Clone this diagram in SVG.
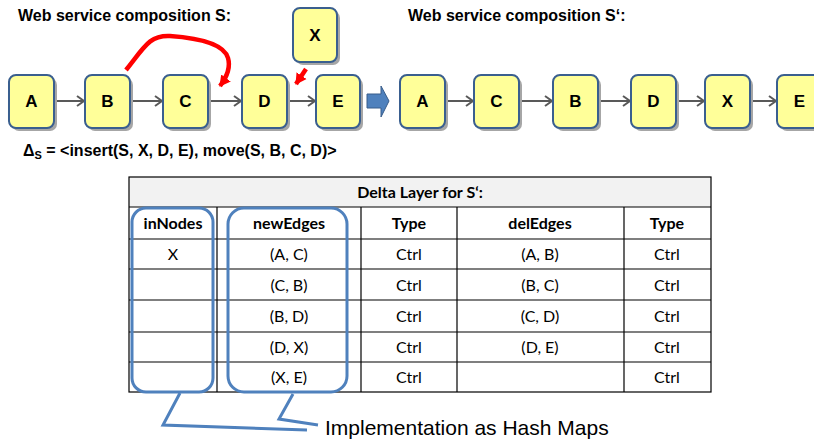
<svg xmlns="http://www.w3.org/2000/svg" width="814" height="441" viewBox="0 0 814 441">
<defs>
<style>
.node rect.sh{fill:#a6a6a6}
.node rect.bx{fill:#ffff99;stroke:#3a5f8f;stroke-width:2}
.node text{font-family:"Liberation Sans",Arial,sans-serif;font-weight:bold;font-size:17px;text-anchor:middle;fill:#000}
.title{font-family:"Liberation Sans",Arial,sans-serif;font-weight:bold;font-size:16px;fill:#000}
.gl{stroke:#595959;stroke-width:2;fill:none}
.red{stroke:#ff0000;stroke-width:4.5;fill:none}
.tb{font-family:Lato,"Open Sans",sans-serif;font-size:16px;text-anchor:middle;fill:#000}
.th{font-weight:bold}
.grid{stroke:#000;stroke-width:1.2;fill:none}
.hm{stroke:#4f81bd;stroke-width:3;fill:none}
</style>
<marker id="chev" markerUnits="userSpaceOnUse" markerWidth="12" markerHeight="12" refX="9" refY="6" orient="auto">
<path d="M2,1 L9,6 L2,11" fill="none" stroke="#595959" stroke-width="2"/>
</marker>
<marker id="redhead" markerUnits="userSpaceOnUse" markerWidth="14" markerHeight="14" refX="10" refY="7" orient="auto">
<path d="M0,1 L11,7 L0,13 Z" fill="#ff0000"/>
</marker>
</defs>
<rect width="814" height="441" fill="#ffffff"/>

<text class="title" x="18" y="21">Web service composition S:</text>
<text class="title" x="408" y="21">Web service composition S‘:</text>

<g id="connectors">
<line class="gl" x1="54" y1="101" x2="84" y2="101" marker-end="url(#chev)"/>
<line class="gl" x1="130" y1="101" x2="162" y2="101" marker-end="url(#chev)"/>
<line class="gl" x1="208" y1="101" x2="241" y2="101" marker-end="url(#chev)"/>
<line class="gl" x1="287" y1="101" x2="315" y2="101" marker-end="url(#chev)"/>
<line class="gl" x1="445" y1="101" x2="473" y2="101" marker-end="url(#chev)"/>
<line class="gl" x1="519" y1="101" x2="552" y2="101" marker-end="url(#chev)"/>
<line class="gl" x1="598" y1="101" x2="630" y2="101" marker-end="url(#chev)"/>
<line class="gl" x1="676" y1="101" x2="704" y2="101" marker-end="url(#chev)"/>
<line class="gl" x1="748" y1="101" x2="776" y2="101" marker-end="url(#chev)"/>
<path class="red" d="M126,70 C145,46 150,35 170,36 C198,38 224,44 228,58 C231,68 226,78 220,86" marker-end="url(#redhead)"/>
<line class="red" stroke-width="3" x1="306" y1="69" x2="296" y2="84" marker-end="url(#redhead)"/>
<path d="M367,94 L381,94 L381,86 L389,101 L381,117 L381,108 L367,108 Z" fill="#4f81bd" stroke="#385d8a" stroke-width="1"/>
</g>

<g id="node-A" class="node"><rect class="sh" x="12" y="78" width="45" height="53" rx="7"/><rect class="bx" x="9" y="75" width="45" height="53" rx="7"/><text x="31.5" y="107">A</text></g>
<g id="node-B" class="node"><rect class="sh" x="88" y="78" width="45" height="53" rx="7"/><rect class="bx" x="85" y="75" width="45" height="53" rx="7"/><text x="107.5" y="107">B</text></g>
<g id="node-C" class="node"><rect class="sh" x="166" y="78" width="45" height="53" rx="7"/><rect class="bx" x="163" y="75" width="45" height="53" rx="7"/><text x="185.5" y="107">C</text></g>
<g id="node-D" class="node"><rect class="sh" x="245" y="78" width="45" height="53" rx="7"/><rect class="bx" x="242" y="75" width="45" height="53" rx="7"/><text x="264.5" y="107">D</text></g>
<g id="node-E" class="node"><rect class="sh" x="319" y="78" width="44" height="53" rx="7"/><rect class="bx" x="316" y="75" width="44" height="53" rx="7"/><text x="338" y="107">E</text></g>
<g id="node-X" class="node"><rect class="sh" x="296" y="11" width="44" height="54" rx="7"/><rect class="bx" x="293" y="8" width="44" height="54" rx="7"/><text x="315" y="41">X</text></g>

<g id="node-A2" class="node"><rect class="sh" x="403" y="78" width="45" height="53" rx="7"/><rect class="bx" x="400" y="75" width="45" height="53" rx="7"/><text x="422.5" y="107">A</text></g>
<g id="node-C2" class="node"><rect class="sh" x="477" y="78" width="45" height="53" rx="7"/><rect class="bx" x="474" y="75" width="45" height="53" rx="7"/><text x="496.5" y="107">C</text></g>
<g id="node-B2" class="node"><rect class="sh" x="556" y="78" width="45" height="53" rx="7"/><rect class="bx" x="553" y="75" width="45" height="53" rx="7"/><text x="575.5" y="107">B</text></g>
<g id="node-D2" class="node"><rect class="sh" x="634" y="78" width="45" height="53" rx="7"/><rect class="bx" x="631" y="75" width="45" height="53" rx="7"/><text x="653.5" y="107">D</text></g>
<g id="node-X2" class="node"><rect class="sh" x="708" y="78" width="45" height="53" rx="7"/><rect class="bx" x="705" y="75" width="45" height="53" rx="7"/><text x="727.5" y="107">X</text></g>
<g id="node-E2" class="node"><rect class="sh" x="780" y="78" width="45" height="53" rx="7"/><rect class="bx" x="777" y="75" width="45" height="53" rx="7"/><text x="799.5" y="107">E</text></g>

<text class="title" x="23" y="156" font-size="15">Δ<tspan font-size="11" dy="3">S</tspan><tspan dy="-3"> = &lt;insert(S, X, D, E), move(S, B, C, D)&gt;</tspan></text>

<g id="table">
<rect x="129" y="177" width="582" height="30" fill="#f2f2f2"/>
<rect class="grid" x="129" y="177" width="582" height="215"/>
<line class="grid" x1="129" y1="207" x2="711" y2="207"/>
<line class="grid" x1="129" y1="239" x2="711" y2="239"/>
<line class="grid" x1="129" y1="269" x2="711" y2="269"/>
<line class="grid" x1="129" y1="300" x2="711" y2="300"/>
<line class="grid" x1="129" y1="332" x2="711" y2="332"/>
<line class="grid" x1="129" y1="362" x2="711" y2="362"/>
<line class="grid" x1="217" y1="207" x2="217" y2="392"/>
<line class="grid" x1="361" y1="207" x2="361" y2="392"/>
<line class="grid" x1="457" y1="207" x2="457" y2="392"/>
<line class="grid" x1="624" y1="207" x2="624" y2="392"/>
<text class="tb th" x="420" y="198">Delta Layer for S‘:</text>
<text class="tb th" x="173" y="229">inNodes</text>
<text class="tb th" x="289" y="229">newEdges</text>
<text class="tb th" x="409" y="229">Type</text>
<text class="tb th" x="540" y="229">delEdges</text>
<text class="tb th" x="667" y="229">Type</text>
<text class="tb" x="173" y="260">X</text>
<text class="tb" x="289" y="260">(A, C)</text>
<text class="tb" x="409" y="260">Ctrl</text>
<text class="tb" x="540" y="260">(A, B)</text>
<text class="tb" x="667" y="260">Ctrl</text>
<text class="tb" x="289" y="291">(C, B)</text>
<text class="tb" x="409" y="291">Ctrl</text>
<text class="tb" x="540" y="291">(B, C)</text>
<text class="tb" x="667" y="291">Ctrl</text>
<text class="tb" x="289" y="322">(B, D)</text>
<text class="tb" x="409" y="322">Ctrl</text>
<text class="tb" x="540" y="322">(C, D)</text>
<text class="tb" x="667" y="322">Ctrl</text>
<text class="tb" x="289" y="353">(D, X)</text>
<text class="tb" x="409" y="353">Ctrl</text>
<text class="tb" x="540" y="353">(D, E)</text>
<text class="tb" x="667" y="353">Ctrl</text>
<text class="tb" x="289" y="383">(X, E)</text>
<text class="tb" x="409" y="383">Ctrl</text>
<text class="tb" x="667" y="383">Ctrl</text>
</g>

<g id="hashmaps">
<rect class="hm" x="132" y="208" width="81" height="184" rx="14"/>
<rect class="hm" x="228" y="208" width="119" height="184" rx="16"/>
<polyline class="hm" points="180,393 163,425 307,430"/>
<polyline class="hm" points="293,394 279,419 318,425"/>
</g>
<text x="325" y="435" font-family="Liberation Sans,Arial,sans-serif" font-size="21" fill="#000">Implementation as Hash Maps</text>
</svg>
